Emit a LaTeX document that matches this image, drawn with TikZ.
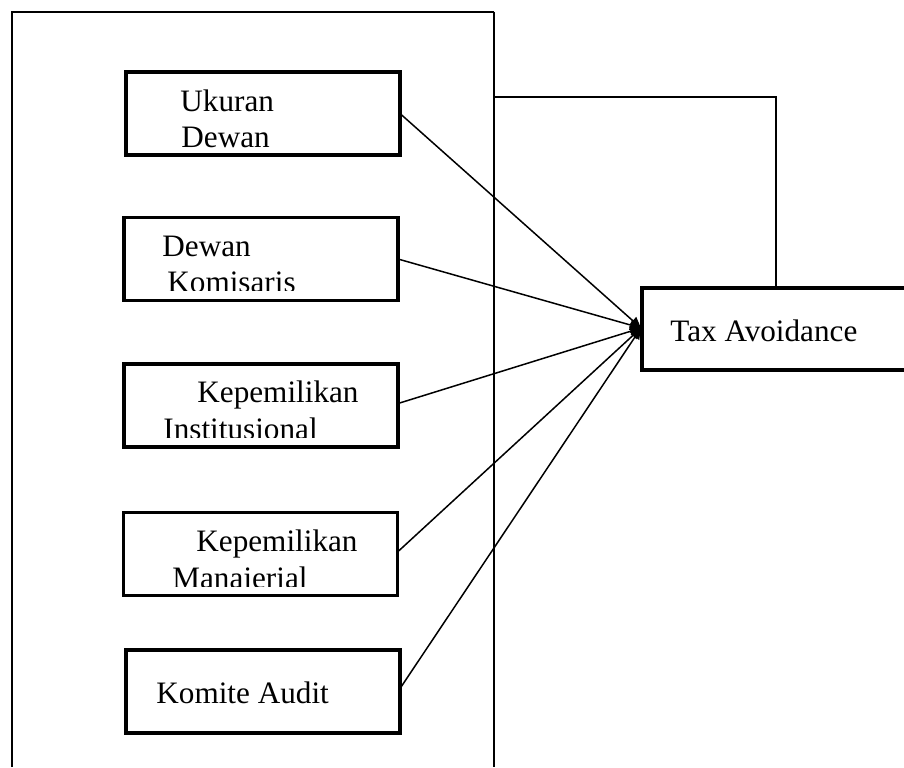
\documentclass[tikz,border=0pt]{standalone}
\usepackage{fontspec}
\setmainfont{Liberation Serif}
\usetikzlibrary{arrows.meta}
\begin{document}
\begin{tikzpicture}[x=0.5pt,y=-0.5pt,
  box/.style={draw,line width=1.6pt,rectangle,inner sep=0pt,outer sep=0pt,minimum width=137pt,minimum height=41.5pt},
  lbl/.style={anchor=base west,inner sep=0pt,font=\fontsize{15.6}{18}\selectfont},
  conn/.style={line width=0.75pt,-{Triangle[length=5.5pt,width=5pt]}},
  plain/.style={line width=0.75pt}]
\useasboundingbox (0,0) rectangle (904,767);
% frame
\draw[line width=0.6pt] (12,767) -- (12,12) -- (494,12);
\draw[line width=1pt] (494,11.5) -- (494,767);
% boxes
\node[box] (b1) at (263,113.5) {};
\node[box] (b2) at (261,259) {};
\node[box] (b3) at (261,405.5) {};
\node[box] (b4) at (260.5,554) {};
\node[box] (b5) at (263,691.5) {};
\node[draw,line width=1.6pt,rectangle,inner sep=0pt,outer sep=0pt,minimum width=170pt,minimum height=41pt] (ta) at (642+170,329) {};
% texts
\node[lbl] (t1a) at (180,111) {Ukuran};
\node[lbl] (t1b) at (181,147) {Dewan};
\node[lbl] (t2a) at (162,256) {Dewan};
\begin{scope}\clip (130,220) rectangle (392,290);
\node[lbl] (t2b) at (167,292) {Komisaris};
\end{scope}
\node[lbl] (t3a) at (197,402) {Kepemilikan};
\begin{scope}\clip (130,366) rectangle (392,437);
\node[lbl] (t3b) at (163,439) {Institusional};
\end{scope}
\node[lbl] (t4a) at (196,551) {Kepemilikan};
\begin{scope}\clip (130,514) rectangle (392,586);
\node[lbl] (t4b) at (172,588) {Manajerial};
\end{scope}
\node[lbl] (t5) at (156,703) {Komite Audit};
\node[lbl] (t6) at (670,341) {Tax Avoidance};
% connectors
\coordinate (tgt) at (641,328);
\draw[conn] (b1.east) -- (tgt);
\draw[conn] (b2.east) -- (tgt);
\draw[conn] ([yshift=1pt]b3.east) -- (tgt);
\draw[conn] ([yshift=1pt]b4.east) -- (tgt);
\draw[conn] ([yshift=1.5pt]b5.east) -- (tgt);
\coordinate (fj) at (494,97);
\coordinate (tj) at (776,288);
\draw[plain] (fj) -| (tj);
\end{tikzpicture}
\end{document}
